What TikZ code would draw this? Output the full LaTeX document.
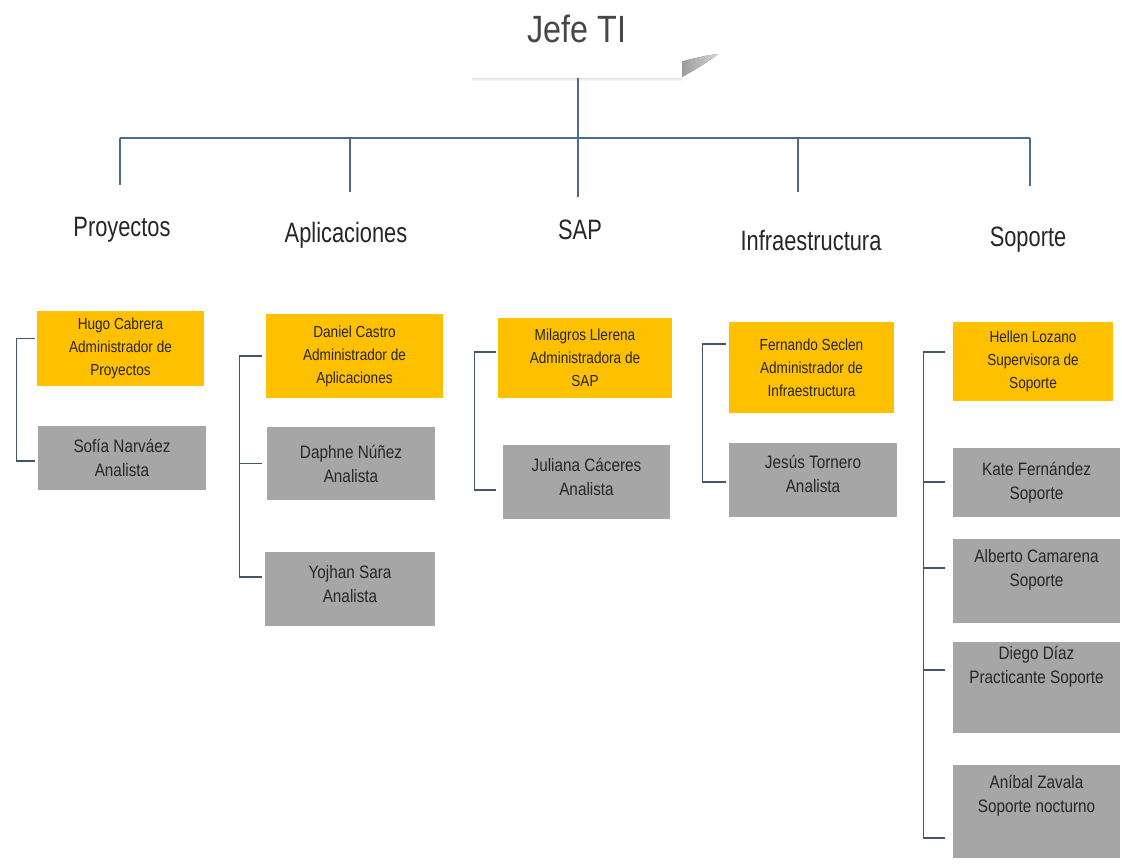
\documentclass[tikz,border=0pt]{standalone}
\usepackage{fontspec}
\setmainfont{Liberation Sans}[FakeStretch=0.85]
\newfontfamily\deptfont{Liberation Sans}[FakeStretch=0.78]
\usetikzlibrary{calc}
\definecolor{orangebox}{HTML}{FFC000}
\definecolor{graybox}{HTML}{A6A6A6}
\definecolor{topline}{HTML}{4A6A90}
\definecolor{brline}{HTML}{44546A}
\definecolor{txt}{HTML}{262626}
\newcommand{\padd}[1]{\rule[-#1pt]{0pt}{0pt}}
\begin{document}
\begin{tikzpicture}[x=1pt,y=-1pt,
  obox/.style={fill=orangebox, text=txt, align=center, inner sep=0pt, font=\fontsize{16}{23}\selectfont},
  gbox/.style={fill=graybox, text=txt, align=center, inner sep=0pt, font=\fontsize{18}{24}\selectfont},
  sz/.style 2 args={minimum width=#1pt, minimum height=#2pt},
  dept/.style={text=txt, font=\deptfont\fontsize{28}{30}\selectfont, inner sep=0pt},
  tl/.style={draw=topline, line width=1.2pt},
  br/.style={draw=brline, line width=1.2pt}]
\fill[white] (0,0) rectangle (1122,863);
\useasboundingbox (0,0) rectangle (1122,863);

% Jefe TI box with soft shadow
\fill[left color=gray!60, right color=white, opacity=0.8] (680,62) .. controls (695,58) and (708,55) .. (718,54) .. controls (708,62) and (695,70) .. (680,78) -- cycle;
\fill[top color=gray!30, bottom color=white] (472,77) rectangle (682,81);
\node[fill=white, minimum width=210pt, inner xsep=0pt, inner ysep=0pt, text height=39pt, text depth=36pt,
      anchor=base, text=txt!85, font=\fontsize{38}{40}\selectfont] (jefe) at (577,42) {Jefe TI};

% departments
\node[dept] (d1) at (122,230) {Proyectos};
\node[dept] (d2) at (346,235) {Aplicaciones};
\node[dept] (d3) at (580,230) {SAP};
\node[dept] (d4) at (811,240) {Infraestructura};
\node[dept] (d5) at (1028,240) {Soporte};

\coordinate (bL) at (120,138);
\coordinate (bR) at (1030,138);
\draw[tl] (jefe.south -| 578,0) -- (578,138);
\draw[tl] (bL) -- (bR);
\draw[tl] (bL) -- ++(0,47);
\draw[tl] ([xshift=4pt]d2.north |- bL) -- ++(0,54);
\draw[tl] ([xshift=-2pt]d3.north |- bL) -- ++(0,59);
\draw[tl] ([xshift=-13pt]d4.north |- bL) -- ++(0,54);
\draw[tl] (bR) -- ++(0,48);

% Proyectos
\node[obox, sz={167}{75}] (p0) at (120.5,348.5) {Hugo Cabrera\\Administrador de\\Proyectos};
\node[gbox, sz={168}{64}] (p1) at (122,458) {Sofía Narváez\\Analista};
\draw[br] ([xshift=-2pt,yshift=10pt]p0.west) -- ++(-18,0) |- ([xshift=-3pt,yshift=-3pt]p1.west);

% Aplicaciones
\node[obox, sz={177}{84}] (a0) at (354.5,356) {Daniel Castro\\Administrador de\\Aplicaciones};
\node[gbox, sz={168}{73}] (a1) at (351,463.5) {Daphne Núñez\\Analista};
\node[gbox, sz={170}{74}] (a2) at (350,589) {Yojhan Sara\\Analista\padd{10}};
\draw[br] ([xshift=-4pt]a0.west) -- ++(-22,0) coordinate (abx) |- ([xshift=-3pt,yshift=12pt]a2.west);
\draw[br] ([xshift=-5pt]a1.west) -- (a1.west -| abx);

% SAP
\node[obox, sz={174}{80}] (s0) at (585,358) {Milagros Llerena\\Administradora de\\SAP};
\node[gbox, sz={167}{74}] (s1) at (586.5,482) {Juliana Cáceres\\Analista\padd{10}};
\draw[br] ([xshift=-2pt,yshift=6pt]s0.west) -- ++(-21,0) |- ([xshift=-7pt,yshift=-8pt]s1.west);

% Infraestructura
\node[obox, sz={165}{91}] (i0) at (811.5,367.5) {Fernando Seclen\\Administrador de\\Infraestructura};
\node[gbox, sz={168}{74}] (i1) at (813,480) {Jesús Tornero\\Analista\padd{12}};
\draw[br] ([xshift=-3pt,yshift=23.5pt]i0.west) -- ++(-23,0) |- ([xshift=-3pt,yshift=-2pt]i1.west);

% Soporte
\node[obox, sz={160}{79}] (o0) at (1033,361.5) {Hellen Lozano\\Supervisora de\\Soporte};
\node[gbox, sz={167}{69}] (k1) at (1036.5,482.5) {Kate Fernández\\Soporte};
\node[gbox, sz={167}{84}] (k2) at (1036.5,581) {Alberto Camarena\\Soporte\padd{26}};
\node[gbox, sz={167}{91}] (k3) at (1036.5,687.5) {Diego Díaz\\Practicante Soporte\padd{46}};
\node[gbox, sz={167}{93}] (k4) at (1036.5,811.5) {Aníbal Zavala\\Soporte nocturno\padd{36}};
\draw[br] ([xshift=-8pt,yshift=9.5pt]o0.west) -- ++(-21,0) coordinate (obx) |- ([xshift=-8pt,yshift=-26.5pt]k4.west);
\draw[br] ([xshift=-8pt,yshift=0.5pt]k1.west) -- ([yshift=0.5pt]k1.west -| obx);
\draw[br] ([xshift=-8pt,yshift=13pt]k2.west) -- ([yshift=13pt]k2.west -| obx);
\draw[br] ([xshift=-8pt,yshift=17.5pt]k3.west) -- ([yshift=17.5pt]k3.west -| obx);
\end{tikzpicture}
\end{document}
